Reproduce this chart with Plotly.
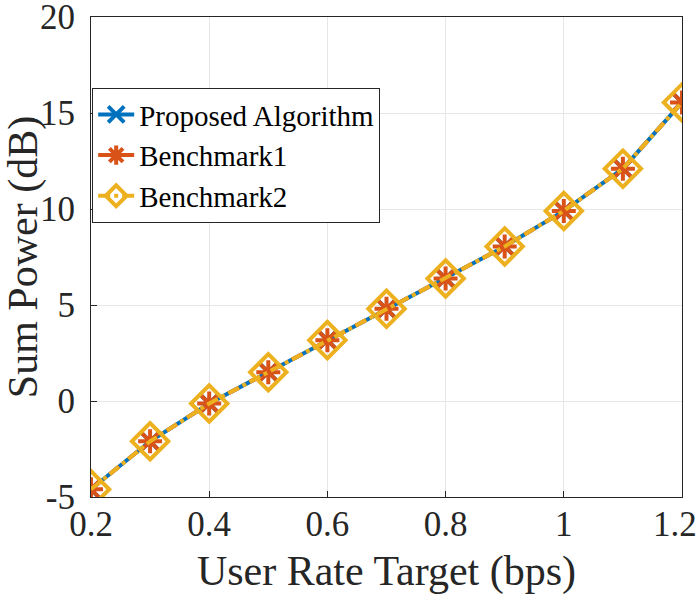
import plotly.graph_objects as go

rate = [0.2, 0.3, 0.4, 0.5, 0.6, 0.7, 0.8, 0.9, 1.0, 1.1, 1.2]
proposed = [-4.6, -2.1, -0.13, 1.5, 3.17, 4.8, 6.38, 8.05, 9.9, 12.1, 15.55]
bench1 = [-4.6, -2.1, -0.13, 1.5, 3.17, 4.8, 6.38, 8.05, 9.9, 12.1, 15.55]
bench2 = [-4.6, -2.1, -0.13, 1.5, 3.17, 4.8, 6.38, 8.05, 9.9, 12.1, 15.55]
x_ticks = [0.2, 0.4, 0.6, 0.8, 1.0, 1.2]
x_tick_text = ["0.2", "0.4", "0.6", "0.8", "1", ""]
x_last_tick = 1.2
x_last_text = "1.2"
y_ticks = [-5, 0, 5, 10, 15, 20]
y_tick_text = ["-5", "0", "5", "10", "15", "20"]

font = "Liberation Serif"
fig = go.Figure()
fig.add_trace(go.Scatter(x=rate, y=proposed, name="Proposed Algorithm", mode="lines+markers",
                         line=dict(color="rgb(0,114,189)", width=4),
                         marker=dict(symbol="x-thin-open", size=18, line=dict(color="rgb(0,114,189)", width=4))))
fig.add_trace(go.Scatter(x=rate, y=bench1, name="Benchmark1", mode="lines+markers",
                         line=dict(color="rgb(217,83,25)", width=4, dash="dash"),
                         marker=dict(symbol="asterisk-open", size=20, line=dict(color="rgb(217,83,25)", width=4))))
fig.add_trace(go.Scatter(x=rate, y=bench2, name="Benchmark2", mode="lines+markers",
                         line=dict(color="rgb(237,177,32)", width=4, dash="dashdot"),
                         marker=dict(symbol="diamond-open", size=28, line=dict(color="rgb(237,177,32)", width=4))))

tickfont = dict(family=font, size=35, color="#262626")
axis_common = dict(showline=True, mirror=True, linecolor="#262626", linewidth=1,
                   showgrid=True, gridcolor="#e6e6e6", gridwidth=1, zeroline=False,
                   ticks="inside", ticklen=6, tickcolor="#262626", automargin=False,
                   ticklabeloverflow="allow", tickfont=tickfont)
fig.update_layout(
    xaxis=dict(range=[0.2, 1.2], tickvals=x_ticks, ticktext=x_tick_text, ticklabelstandoff=-4,
               title=dict(text="User Rate Target (bps)", font=dict(family=font, size=42, color="#262626"), standoff=12),
               **axis_common),
    yaxis=dict(range=[-5, 20], tickvals=y_ticks, ticktext=y_tick_text, ticklabelstandoff=8,
               title=dict(text="Sum Power (dB)", font=dict(family=font, size=42, color="#262626"), standoff=18),
               **axis_common),
)
# last x tick label, nudged inward so it stays inside the page (as in the reference)
fig.add_annotation(x=x_last_tick, y=0, xref="x", yref="paper", text=x_last_text, showarrow=False,
                   xanchor="center", yanchor="middle", xshift=-7, yshift=-27, font=tickfont)
fig.update_layout(width=699, height=603, margin=dict(l=91, r=17, t=17, b=106),
                  plot_bgcolor="white", paper_bgcolor="white",
                  legend=dict(x=0.002, y=0.852, xanchor="left", yanchor="top",
                              bgcolor="white", bordercolor="#262626", borderwidth=1,
                              font=dict(family=font, size=29, color="black"),
                              tracegroupgap=0, itemwidth=36),
                  showlegend=True)
fig.write_html("out.html", post_script="document.body.style.margin='0';",
               config={"displayModeBar": False})
